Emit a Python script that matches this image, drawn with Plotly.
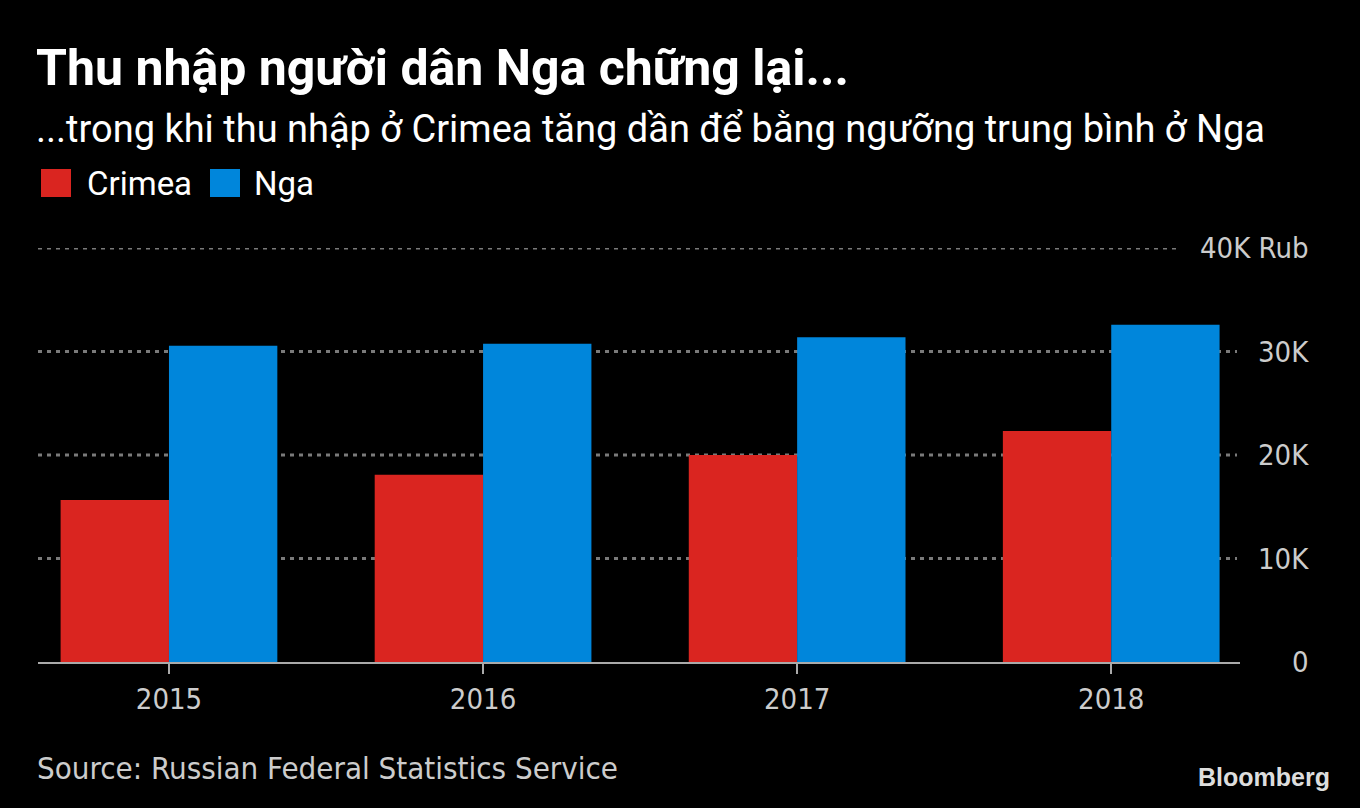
import plotly.graph_objects as go

years = ["2015", "2016", "2017", "2018"]
crimea = [15650, 18100, 20000, 22320]
nga = [30560, 30750, 31370, 32590]
y_ticks = [0, 10000, 20000, 30000, 40000]
y_tick_labels = ["0", "10K", "20K", "30K", "40K Rub"]

RED = "#DA2520"
BLUE = "#0086DB"
W, H = 1360, 808
L, R, T, B = 38, 120, 248, 146
PW = W - L - R
PH = H - T - B

def px(x):
    return (x - L) / PW

def py(y):
    return (H - B - y) / PH

COND = "DejaVu Sans Condensed, Liberation Sans Narrow, Roboto Condensed, DejaVu Sans"

fig = go.Figure()
fig.add_trace(go.Bar(x=years, y=crimea, name="Crimea", marker=dict(color=RED, line=dict(width=0))))
fig.add_trace(go.Bar(x=years, y=nga, name="Nga", marker=dict(color=BLUE, line=dict(width=0))))

shapes = []
for v in y_ticks[1:]:
    end = 1177 if v == max(y_ticks) else 1237
    shapes.append(dict(type="line", xref="paper", yref="y", x0=0, x1=px(end), y0=v, y1=v,
                       line=dict(color="#7a7a7a", width=3, dash="4px,5px"), layer="below"))

# legend squares
shapes.append(dict(type="rect", xref="paper", yref="paper", x0=px(41), x1=px(71), y0=py(197), y1=py(169),
                   fillcolor=RED, line=dict(width=0)))
shapes.append(dict(type="rect", xref="paper", yref="paper", x0=px(210), x1=px(240), y0=py(197), y1=py(169),
                   fillcolor=BLUE, line=dict(width=0)))

annotations = []
for v, t in zip(y_ticks, y_tick_labels):
    annotations.append(dict(text=t, xref="paper", yref="y", x=px(1311), y=v, xanchor="right", yanchor="middle",
                            showarrow=False, font=dict(family=COND, size=29, color="#cccccc")))

annotations += [
    dict(text="<b>Thu nhập người dân Nga chững lại...</b>", xref="paper", yref="paper", x=px(34), y=py(68),
         xanchor="left", yanchor="middle", showarrow=False,
         font=dict(family="Roboto, Inter, sans-serif", size=50, color="#ffffff")),
    dict(text="...trong khi thu nhập ở Crimea tăng dần để bằng ngưỡng trung bình ở Nga", xref="paper", yref="paper",
         x=px(34), y=py(129), xanchor="left", yanchor="middle", showarrow=False,
         font=dict(family="Roboto, sans-serif", size=38, color="#ffffff")),
    dict(text="Crimea", xref="paper", yref="paper", x=px(85), y=py(183), xanchor="left", yanchor="middle",
         showarrow=False, font=dict(family="Roboto, sans-serif", size=33, color="#ffffff")),
    dict(text="Nga", xref="paper", yref="paper", x=px(252), y=py(183), xanchor="left", yanchor="middle",
         showarrow=False, font=dict(family="Roboto, sans-serif", size=33, color="#ffffff")),
    dict(text="Source: Russian Federal Statistics Service", xref="paper", yref="paper", x=px(35), y=py(768),
         xanchor="left", yanchor="middle", showarrow=False,
         font=dict(family=COND, size=31, color="#cccccc")),
    dict(text="<b>Bloomberg</b>", xref="paper", yref="paper", x=px(1332), y=py(777),
         xanchor="right", yanchor="middle", showarrow=False,
         font=dict(family="Liberation Sans, Arial, sans-serif", size=25, color="#dddddd")),
]

fig.update_layout(
    width=W, height=H,
    margin=dict(l=L, r=R, t=T, b=B),
    paper_bgcolor="#000000", plot_bgcolor="#000000",
    barmode="group", bargap=0.31, bargroupgap=0,
    showlegend=False,
    shapes=shapes, annotations=annotations,
    xaxis=dict(type="category", range=[-0.417, 3.41], showgrid=False, zeroline=False,
               showline=True, linecolor="#aaaaaa", linewidth=2,
               ticks="outside", ticklen=10, tickwidth=2, tickcolor="#aaaaaa",
               tickfont=dict(family=COND, size=29, color="#cccccc"), fixedrange=True),
    yaxis=dict(range=[0, 40000], showgrid=False, zeroline=False, showticklabels=False, fixedrange=True),
)

fig.write_html("out.html", config={"displayModeBar": False})
